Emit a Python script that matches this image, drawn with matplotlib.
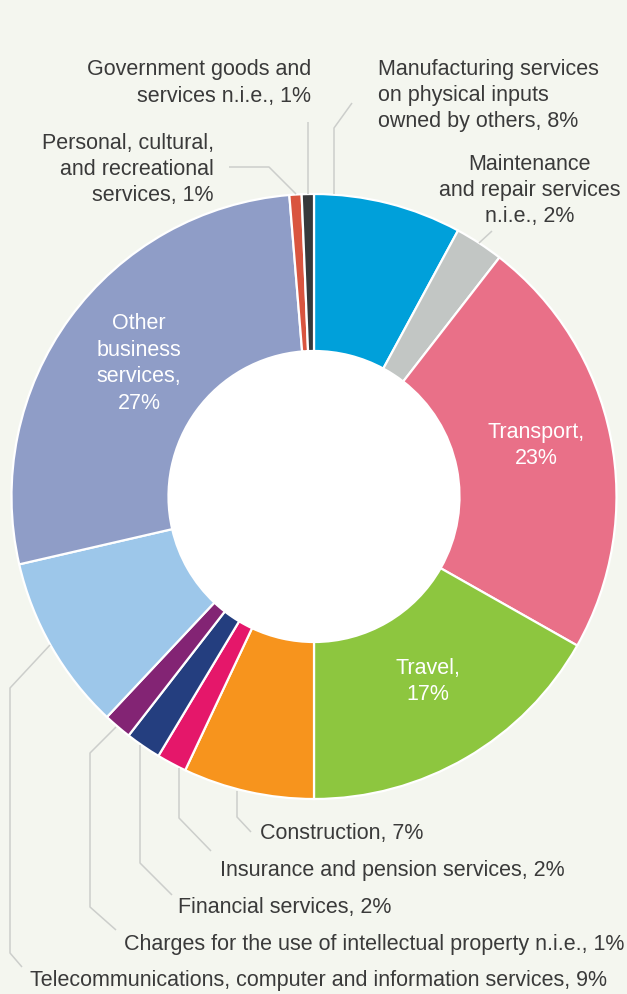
import matplotlib
matplotlib.use("Agg")
import matplotlib.pyplot as plt
from matplotlib.patches import Circle

plt.rcParams['font.family'] = ['Liberation Sans', 'DejaVu Sans']

categories = [
    "Manufacturing services on physical inputs owned by others",
    "Maintenance and repair services n.i.e.",
    "Transport",
    "Travel",
    "Construction",
    "Insurance and pension services",
    "Financial services",
    "Charges for the use of intellectual property n.i.e.",
    "Telecommunications, computer and information services",
    "Other business services",
    "Personal, cultural, and recreational services",
    "Government goods and services n.i.e.",
]
shares = [7.9, 2.6, 22.7, 16.8, 7.0, 1.6, 1.9, 1.5, 9.4, 27.3, 0.65, 0.65]
pct_labels = ["8%", "2%", "23%", "17%", "7%", "2%", "2%", "1%", "9%", "27%", "1%", "1%"]
colors = ["#00a0da", "#c2c6c4", "#e97088", "#8dc63f", "#f7941d", "#e5176a",
          "#243e7f", "#832474", "#9dc7ea", "#8f9dc7", "#d9553f", "#36393b"]

W, H = 627, 994
BG = "#f4f6ef"
TXT = "#3a3a3a"
LINE = "#cccecb"
FS = 15.5

fig = plt.figure(figsize=(W / 100, H / 100), dpi=100)
fig.patch.set_facecolor(BG)
ax = fig.add_axes([0, 0, 1, 1])
ax.set_facecolor(BG)

def Y(y):
    return H - y

cx, cy = 314, 496.5
R, r = 302.5, 145.5
ax.pie(shares, colors=colors, startangle=90, counterclock=False,
       center=(cx, Y(cy)), radius=R,
       wedgeprops=dict(width=R - r, edgecolor="white", linewidth=1.6))
ax.add_patch(Circle((cx, Y(cy)), r, facecolor="white", edgecolor="none", zorder=5))
ax.set_xlim(0, W)
ax.set_ylim(0, H)
ax.set_aspect("equal")
ax.axis("off")

def line(pts):
    xs = [p[0] for p in pts]
    ys = [Y(p[1]) for p in pts]
    ax.plot(xs, ys, color=LINE, lw=1.1, solid_capstyle="butt", zorder=1)

def txt(x, y, s, ha="left", color=TXT):
    ax.text(x, Y(y + 1.5), s, ha=ha, va="center", fontsize=FS, color=color,
            linespacing=1.34, zorder=6)

# Outside labels (top)
txt(311, 81.5, "Government goods and\nservices n.i.e., " + pct_labels[11], ha="right")
line([(308, 194), (308, 122)])
txt(378, 94, "Manufacturing services\non physical inputs\nowned by others, " + pct_labels[0])
line([(334, 194), (334, 128), (352, 103)])
txt(214, 168, "Personal, cultural,\nand recreational\nservices, " + pct_labels[10], ha="right")
line([(296, 194), (269, 167), (229, 167)])
txt(530, 189, "Maintenance\nand repair services\nn.i.e., " + pct_labels[1], ha="center")
line([(479, 243), (492, 231)])

# Inside labels
txt(139, 362, "Other\nbusiness\nservices,\n" + pct_labels[9], ha="center", color="white")
txt(536, 444, "Transport,\n" + pct_labels[2], ha="center", color="white")
txt(428, 680, "Travel,\n" + pct_labels[3], ha="center", color="white")

# Bottom labels
txt(260, 832, "Construction, " + pct_labels[4])
line([(237, 791), (237, 817), (251, 832)])
txt(220, 869, "Insurance and pension services, " + pct_labels[5])
line([(179, 768), (179, 818), (211, 851)])
txt(178, 906, "Financial services, " + pct_labels[6])
line([(140, 745), (140, 863), (172, 895)])
txt(124, 943, "Charges for the use of intellectual property n.i.e., " + pct_labels[7])
line([(116, 727), (90, 753), (90, 907), (116, 930)])
txt(30, 979, "Telecommunications, computer and information services, " + pct_labels[8])
line([(50, 645), (10, 688), (10, 953), (22, 967)])

fig.savefig("out.png", dpi=100, facecolor=BG)
